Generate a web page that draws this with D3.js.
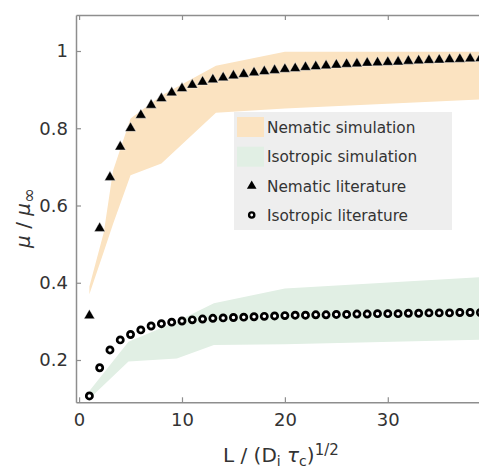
<!DOCTYPE html>
<html>
<head>
<meta charset="utf-8">
<script src="https://cdn.jsdelivr.net/npm/d3@7"></script>
<style>
  body { margin: 0; background: #fff; }
  svg { display: block; font-family: "DejaVu Sans", sans-serif; }
</style>
</head>
<body>
<div id="chart"></div>
<script>
// literature values, one per L
var lit_x = [1,2,3,4,5,6,7,8,9,10,11,12,13,14,15,16,17,18,19,20,
             21,22,23,24,25,26,27,28,29,30,31,32,33,34,35,36,37,38,39];
var nematic_lit = [0.315,0.541,0.673,0.752,0.800,0.834,0.860,0.877,0.892,0.903,
                   0.912,0.920,0.926,0.931,0.936,0.940,0.944,0.947,0.950,0.953,
                   0.955,0.958,0.960,0.962,0.964,0.966,0.967,0.969,0.970,0.971,
                   0.972,0.974,0.975,0.976,0.977,0.978,0.979,0.980,0.981];
var isotropic_lit = [0.107,0.180,0.226,0.252,0.266,0.278,0.288,0.294,0.298,0.301,
                     0.304,0.306,0.308,0.309,0.310,0.311,0.312,0.313,0.314,0.315,
                     0.316,0.316,0.317,0.317,0.318,0.318,0.319,0.319,0.320,0.320,
                     0.320,0.321,0.321,0.322,0.322,0.322,0.323,0.323,0.323];

// simulation bands (min / max)
var nematic_x  = [1, 2.4, 3.3, 5, 8, 13.3, 20, 40];
var nematic_hi = [0.39, 0.53, 0.69, 0.825, 0.885, 0.962, 0.998, 0.998];
var nematic_lo = [0.37, 0.48, 0.552, 0.678, 0.709, 0.840, 0.851, 0.876];

var isotropic_x  = [1, 4.8, 9.5, 13.1, 20, 40];
var isotropic_hi = [0.12, 0.247, 0.300, 0.347, 0.385, 0.416];
var isotropic_lo = [0.10, 0.196, 0.204, 0.239, 0.241, 0.253];

var x_ticks = [0, 10, 20, 30];
var y_ticks = [0.2, 0.4, 0.6, 0.8, 1];
var legend_labels = ['Nematic simulation', 'Isotropic simulation', 'Nematic literature', 'Isotropic literature'];

var W = 479, H = 470;
var colors = {
  nematic   : '#fbe3c1',
  isotropic : '#e1efe4',
  axis      : '#8e8e8e',
  text      : '#333333',
  legend_bg : '#eeeeee'
};

var svg = d3.select('#chart').append('svg')
  .attr('width', W)
  .attr('height', H);

var x = d3.scaleLinear().domain([-0.3, 40.5]).range([76, 76 + 40.8 * 10.29]);
var y = d3.scaleLinear().domain([0.0905, 1.0932]).range([402.3, 15]);

function band(xs, lo, hi) {
  return xs.map(function(v, i) { return { x: v, lo: lo[i], hi: hi[i] }; });
}
var area = d3.area()
  .x(function(d) { return x(d.x); })
  .y0(function(d) { return y(d.lo); })
  .y1(function(d) { return y(d.hi); });

// bands
svg.append('path')
  .datum(band(nematic_x, nematic_lo, nematic_hi))
  .attr('d', area)
  .attr('fill', colors.nematic);
svg.append('path')
  .datum(band(isotropic_x, isotropic_lo, isotropic_hi))
  .attr('d', area)
  .attr('fill', colors.isotropic);

// axes
function style_axis(g) {
  g.attr('font-family', null).attr('font-size', null);
  g.select('.domain').attr('stroke', colors.axis).attr('stroke-width', 1.5);
  g.selectAll('.tick line').attr('stroke', colors.axis).attr('stroke-width', 1.2);
  g.selectAll('.tick text').attr('fill', colors.text).style('font-size', '18px');
}

svg.append('g')
  .attr('transform', 'translate(0,' + y.range()[0] + ')')
  .call(d3.axisBottom(x).tickValues(x_ticks).tickSize(-5).tickSizeOuter(0).tickPadding(11))
  .call(style_axis);

svg.append('g')
  .attr('transform', 'translate(0,' + y.range()[1] + ')')
  .call(d3.axisTop(x).tickValues(x_ticks).tickFormat('').tickSize(-5).tickSizeOuter(0))
  .call(style_axis);

svg.append('g')
  .attr('transform', 'translate(' + x.range()[0] + ',0)')
  .call(d3.axisLeft(y).tickValues(y_ticks).tickFormat(d3.format('~g')).tickSize(-5).tickSizeOuter(0).tickPadding(8))
  .call(style_axis);

// literature markers
var tri = d3.symbol().type(d3.symbolTriangle).size(50);
svg.append('g').selectAll('path')
  .data(lit_x)
  .enter().append('path')
  .attr('d', tri)
  .attr('transform', function(d, i) { return 'translate(' + x(d) + ',' + y(nematic_lit[i]) + ')'; })
  .attr('fill', '#000')
  .attr('stroke', '#fff')
  .attr('stroke-width', 0.4);

svg.append('g').selectAll('circle')
  .data(lit_x)
  .enter().append('circle')
  .attr('cx', function(d) { return x(d); })
  .attr('cy', function(d, i) { return y(isotropic_lit[i]); })
  .attr('r', 3.1)
  .attr('fill', '#fff')
  .attr('stroke', '#000')
  .attr('stroke-width', 2.7);

// legend
var lg = svg.append('g').attr('transform', 'translate(234,112)');
lg.append('rect')
  .attr('width', 218).attr('height', 118)
  .attr('fill', colors.legend_bg);
var row_y = [15, 44.7, 74, 103];
lg.append('rect').attr('x', 3).attr('y', row_y[0] - 10).attr('width', 27).attr('height', 20).attr('fill', colors.nematic);
lg.append('rect').attr('x', 3).attr('y', row_y[1] - 10).attr('width', 27).attr('height', 20).attr('fill', colors.isotropic);
lg.append('path')
  .attr('d', d3.symbol().type(d3.symbolTriangle).size(40))
  .attr('transform', 'translate(17.7,' + row_y[2] + ')')
  .attr('fill', '#000');
lg.append('circle')
  .attr('cx', 17.7).attr('cy', row_y[3]).attr('r', 2.6)
  .attr('fill', '#fff').attr('stroke', '#000').attr('stroke-width', 2.4);
lg.selectAll('text')
  .data(legend_labels)
  .enter().append('text')
  .attr('x', 33)
  .attr('y', function(d, i) { return row_y[i]; })
  .attr('dy', '0.36em')
  .attr('fill', colors.text)
  .style('font-size', '15.3px')
  .text(function(d) { return d; });

// axis labels
var xl = svg.append('text')
  .attr('x', 223).attr('y', 462)
  .attr('fill', colors.text)
  .style('font-size', '20px');
xl.append('tspan').text('L / (D');
xl.append('tspan').attr('baseline-shift', '-25%').style('font-size', '14px').text('i');
xl.append('tspan').text(' ');
xl.append('tspan').style('font-style', 'italic').text('τ');
xl.append('tspan').attr('baseline-shift', '-25%').style('font-size', '14px').text('c');
xl.append('tspan').text(')');
xl.append('tspan').attr('baseline-shift', '45%').style('font-size', '15px').text('1/2');

var yl = svg.append('text')
  .attr('transform', 'translate(30,218) rotate(-90)')
  .attr('text-anchor', 'middle')
  .attr('fill', colors.text)
  .style('font-size', '20px');
yl.append('tspan').style('font-style', 'italic').text('μ');
yl.append('tspan').text(' / ');
yl.append('tspan').style('font-style', 'italic').text('μ');
yl.append('tspan').attr('baseline-shift', '-25%').style('font-size', '18px').text('∞');
</script>
</body>
</html>
